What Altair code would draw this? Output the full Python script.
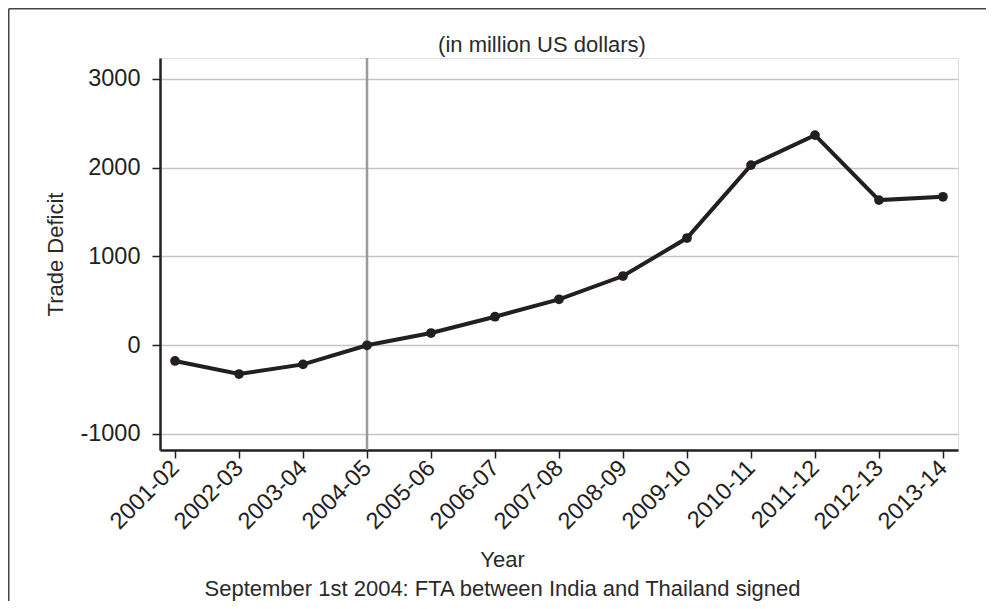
import altair as alt
import pandas as pd

years = ["2001-02", "2002-03", "2003-04", "2004-05", "2005-06", "2006-07", "2007-08",
         "2008-09", "2009-10", "2010-11", "2011-12", "2012-13", "2013-14"]
deficit = [-180, -327, -218, -3, 135, 319, 515, 777, 1205, 2027, 2365, 1633, 1670]
fta_year = ["2004-05"]
y_ticks = [-1000, 0, 1000, 2000, 3000]
y_domain = [-1183, 3234]
chart_title = "(in million US dollars)"
x_title = "Year"
caption = "September 1st 2004: FTA between India and Thailand signed"
y_title = "Trade Deficit"

FONT = "Liberation Sans"
INK = "#231f20"

df = pd.DataFrame({"Year": years, "Deficit": deficit})
fta_df = pd.DataFrame({"Year": fta_year})
one_df = pd.DataFrame({"k": [0]})

x_scale = alt.Scale(type="point", padding=0.235)

x_enc = alt.X(
    "Year:O", sort=years, scale=x_scale,
    axis=alt.Axis(
        title=[x_title, caption], titleX=342, titleY=116, titleBaseline="alphabetic",
        titleLineHeight=29, titleFontSize=22, titleFont=FONT, titleFontWeight="normal",
        titleColor="#2a2a2a",
        labelAngle=-45, labelAlign="right", labelBaseline="middle", labelPadding=6,
        labelFontSize=23.5, labelFont=FONT, labelColor=INK,
        tickSize=8, tickWidth=1.5, tickColor=INK,
        domainColor=INK, domainWidth=2.5, grid=False,
    ),
)
y_enc = alt.Y(
    "Deficit:Q",
    scale=alt.Scale(domain=y_domain, nice=False, zero=False),
    axis=alt.Axis(
        title=y_title, titleX=-105, titleBaseline="middle", titleFontSize=22,
        titleFont=FONT, titleFontWeight="normal", titleColor="#2a2a2a",
        values=y_ticks, labelExpr="'' + datum.value",
        labelFontSize=23.5, labelFont=FONT, labelColor=INK, labelPadding=12,
        tickSize=8, tickWidth=1.5, tickColor=INK,
        domainColor=INK, domainWidth=2.5,
        grid=True, gridColor="#c4c4c4", gridWidth=1.3,
    ),
)

frame_top = alt.Chart(one_df).mark_rule(color="#444", strokeWidth=1.5).encode(
    x=alt.value(-151.25), x2=alt.value(826), y=alt.value(-49.25)
)
frame_left = alt.Chart(one_df).mark_rule(color="#444", strokeWidth=1.5).encode(
    x=alt.value(-151.25), y=alt.value(-49.25), y2=alt.value(543)
)

title_mark = alt.Chart(one_df).mark_text(
    text=chart_title, font=FONT, fontSize=22, color="#2a2a2a",
    align="center", baseline="middle"
).encode(x=alt.value(382), y=alt.value(-13))

fta_rule = alt.Chart(fta_df).mark_rule(color="#9a9a9a", strokeWidth=2.5).encode(
    x=alt.X("Year:O", sort=years, scale=x_scale)
)

line = alt.Chart(df).mark_line(color=INK, strokeWidth=4).encode(x=x_enc, y=y_enc)
points = alt.Chart(df).mark_circle(color=INK, opacity=1, size=95).encode(x=x_enc, y=y_enc)

chart = alt.layer(frame_top, frame_left, title_mark, fta_rule, line, points).properties(
    width=798, height=392,
    autosize=alt.AutoSizeParams(type="none"),
    padding={"left": 152, "top": 50, "right": 28, "bottom": 151},
).configure_view(stroke=None).configure(background="white")

chart.save("out.html", embed_options={"renderer": "svg", "actions": False})
